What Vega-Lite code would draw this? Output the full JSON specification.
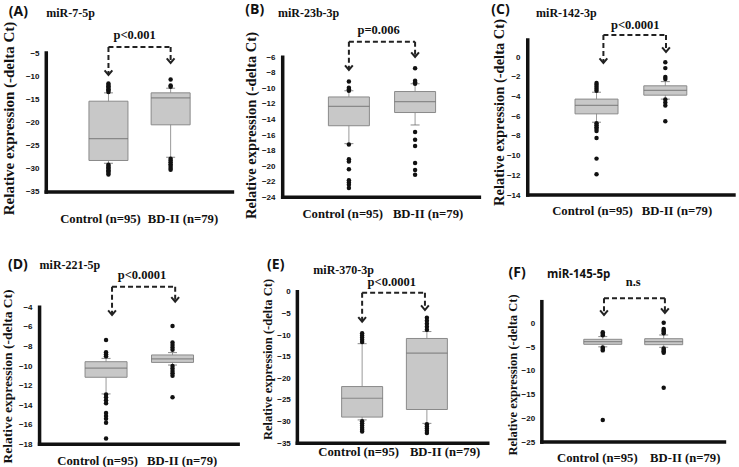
{
"$schema":"https://vega.github.io/schema/vega-lite/v6.json",
"padding":0,
"data":{"values":[{}]},
"datasets":{
"boxes":[
{"p":"A","x":1,"lo":-28.8,"q1":-28.2,"med":-23.5,"q3":-15.4,"hi":-13.6},
{"p":"A","x":2,"lo":-27.5,"q1":-20.5,"med":-14.7,"q3":-13.6,"hi":-12.6},
{"p":"B","x":1,"lo":-17.1,"q1":-14.8,"med":-12.3,"q3":-11.1,"hi":-10.3},
{"p":"B","x":2,"lo":-14.7,"q1":-13.1,"med":-11.7,"q3":-10.4,"hi":-9.4},
{"p":"C","x":1,"lo":-6.6,"q1":-5.75,"med":-4.88,"q3":-4.25,"hi":-3.55},
{"p":"C","x":2,"lo":-4.25,"q1":-3.85,"med":-3.36,"q3":-2.9,"hi":-2.47},
{"p":"D","x":1,"lo":-12.85,"q1":-11.15,"med":-10.22,"q3":-9.56,"hi":-9.22},
{"p":"D","x":2,"lo":-9.9,"q1":-9.63,"med":-9.28,"q3":-8.87,"hi":-8.63},
{"p":"E","x":1,"lo":-29.6,"q1":-28.95,"med":-24.6,"q3":-21.9,"hi":-12.0},
{"p":"E","x":2,"lo":-30.4,"q1":-27.2,"med":-14.2,"q3":-10.8,"hi":-9.2},
{"p":"F","x":1,"lo":-4.95,"q1":-4.42,"med":-3.86,"q3":-3.37,"hi":-2.8},
{"p":"F","x":2,"lo":-5.05,"q1":-4.5,"med":-3.86,"q3":-3.24,"hi":-2.46}
],
"out":[
{"p":"A","x":1,"v":-11.6},{"p":"A","x":1,"v":-11.9},{"p":"A","x":1,"v":-12.2},{"p":"A","x":1,"v":-12.5},{"p":"A","x":1,"v":-12.8},{"p":"A","x":1,"v":-13.1},{"p":"A","x":1,"v":-13.4},
{"p":"A","x":1,"v":-29.1},{"p":"A","x":1,"v":-29.4},{"p":"A","x":1,"v":-29.7},{"p":"A","x":1,"v":-30.0},{"p":"A","x":1,"v":-30.3},{"p":"A","x":1,"v":-30.6},{"p":"A","x":1,"v":-30.9},{"p":"A","x":1,"v":-31.2},
{"p":"A","x":2,"v":-10.7},{"p":"A","x":2,"v":-12.0},{"p":"A","x":2,"v":-12.3},
{"p":"A","x":2,"v":-27.8},{"p":"A","x":2,"v":-28.2},{"p":"A","x":2,"v":-28.6},{"p":"A","x":2,"v":-29.0},{"p":"A","x":2,"v":-29.4},{"p":"A","x":2,"v":-29.8},{"p":"A","x":2,"v":-30.2},
{"p":"B","x":1,"v":-9.1},{"p":"B","x":1,"v":-9.9},{"p":"B","x":1,"v":-10.1},{"p":"B","x":1,"v":-10.3},{"p":"B","x":1,"v":-17.2},{"p":"B","x":1,"v":-19.1},{"p":"B","x":1,"v":-19.4},{"p":"B","x":1,"v":-20.4},{"p":"B","x":1,"v":-21.8},{"p":"B","x":1,"v":-22.1},{"p":"B","x":1,"v":-22.4},{"p":"B","x":1,"v":-22.8},
{"p":"B","x":2,"v":-7.4},{"p":"B","x":2,"v":-9.0},{"p":"B","x":2,"v":-9.2},{"p":"B","x":2,"v":-9.4},{"p":"B","x":2,"v":-15.6},{"p":"B","x":2,"v":-16.6},{"p":"B","x":2,"v":-17.4},{"p":"B","x":2,"v":-19.6},{"p":"B","x":2,"v":-20.5},{"p":"B","x":2,"v":-21.1},
{"p":"C","x":1,"v":-2.6},{"p":"C","x":1,"v":-2.8},{"p":"C","x":1,"v":-3.0},{"p":"C","x":1,"v":-3.2},{"p":"C","x":1,"v":-3.4},{"p":"C","x":1,"v":-6.7},{"p":"C","x":1,"v":-6.9},{"p":"C","x":1,"v":-7.1},{"p":"C","x":1,"v":-7.3},{"p":"C","x":1,"v":-7.5},{"p":"C","x":1,"v":-8.2},{"p":"C","x":1,"v":-10.3},{"p":"C","x":1,"v":-11.9},
{"p":"C","x":2,"v":-0.5},{"p":"C","x":2,"v":-1.1},{"p":"C","x":2,"v":-2.0},{"p":"C","x":2,"v":-2.2},{"p":"C","x":2,"v":-4.3},{"p":"C","x":2,"v":-4.6},{"p":"C","x":2,"v":-4.9},{"p":"C","x":2,"v":-6.5},
{"p":"D","x":1,"v":-7.35},{"p":"D","x":1,"v":-8.6},{"p":"D","x":1,"v":-8.8},{"p":"D","x":1,"v":-9.0},{"p":"D","x":1,"v":-12.9},{"p":"D","x":1,"v":-13.2},{"p":"D","x":1,"v":-13.5},{"p":"D","x":1,"v":-13.8},{"p":"D","x":1,"v":-14.8},{"p":"D","x":1,"v":-15.1},{"p":"D","x":1,"v":-15.4},{"p":"D","x":1,"v":-15.8},{"p":"D","x":1,"v":-17.4},
{"p":"D","x":2,"v":-5.9},{"p":"D","x":2,"v":-7.6},{"p":"D","x":2,"v":-7.85},{"p":"D","x":2,"v":-8.1},{"p":"D","x":2,"v":-8.35},{"p":"D","x":2,"v":-10.0},{"p":"D","x":2,"v":-10.25},{"p":"D","x":2,"v":-10.5},{"p":"D","x":2,"v":-10.75},{"p":"D","x":2,"v":-11.0},{"p":"D","x":2,"v":-13.2},
{"p":"E","x":1,"v":-9.6},{"p":"E","x":1,"v":-10.1},{"p":"E","x":1,"v":-10.6},{"p":"E","x":1,"v":-11.1},{"p":"E","x":1,"v":-11.6},{"p":"E","x":1,"v":-29.9},{"p":"E","x":1,"v":-30.4},{"p":"E","x":1,"v":-30.9},{"p":"E","x":1,"v":-31.4},{"p":"E","x":1,"v":-31.9},{"p":"E","x":1,"v":-32.3},
{"p":"E","x":2,"v":-6.0},{"p":"E","x":2,"v":-6.7},{"p":"E","x":2,"v":-7.4},{"p":"E","x":2,"v":-8.1},{"p":"E","x":2,"v":-8.8},{"p":"E","x":2,"v":-30.6},{"p":"E","x":2,"v":-31.1},{"p":"E","x":2,"v":-31.6},{"p":"E","x":2,"v":-32.1},{"p":"E","x":2,"v":-32.6},
{"p":"F","x":1,"v":-1.9},{"p":"F","x":1,"v":-2.2},{"p":"F","x":1,"v":-2.5},{"p":"F","x":1,"v":-5.1},{"p":"F","x":1,"v":-5.4},{"p":"F","x":1,"v":-5.7},{"p":"F","x":1,"v":-20.35},
{"p":"F","x":2,"v":0.1},{"p":"F","x":2,"v":-1.2},{"p":"F","x":2,"v":-1.5},{"p":"F","x":2,"v":-1.8},{"p":"F","x":2,"v":-2.1},{"p":"F","x":2,"v":-5.3},{"p":"F","x":2,"v":-5.6},{"p":"F","x":2,"v":-5.9},{"p":"F","x":2,"v":-6.2},{"p":"F","x":2,"v":-13.55}
],
"bars":[
{"p":"A","xl":1,"xr":2,"top":-3.7},
{"p":"B","xl":1,"xr":2,"top":-3.99},
{"p":"C","xl":1.1,"xr":2.01,"top":2.27},
{"p":"D","xl":1.09,"xr":2.04,"top":-1.89},
{"p":"E","xl":1,"xr":1.97,"top":-0.23},
{"p":"F","xl":1.02,"xr":2.02,"top":5.26}
],
"arms":[
{"p":"A","x":1,"top":-3.7,"tip":-9.75},{"p":"A","x":2,"top":-3.7,"tip":-7.16},
{"p":"B","x":1,"top":-3.99,"tip":-7.63},{"p":"B","x":2,"top":-3.99,"tip":-5.96},
{"p":"C","x":1.1,"top":2.27,"tip":-0.58},{"p":"C","x":2.01,"top":2.27,"tip":0.54},
{"p":"D","x":1.09,"top":-1.89,"tip":-4.79},{"p":"D","x":2.04,"top":-1.89,"tip":-3.43},
{"p":"E","x":1,"top":-0.23,"tip":-6.93},{"p":"E","x":1.97,"top":-0.23,"tip":-4.23},
{"p":"F","x":1.02,"top":5.26,"tip":1.75},{"p":"F","x":2.02,"top":5.26,"tip":2.17}
]
},
"columns":3,
"spacing":0,
"bounds":"flush",
"concat":[
{"width":246,"height":233,"layer":[
{"data":{"name":"boxes"},"transform":[{"filter":"datum.p=='A'"}],"mark":{"type":"rule","color":"#9a9a9a"},"encoding":{
"x":{"field":"x","type":"quantitative","scale":{"domain":[-0.648,3.148],"nice":false,"zero":false},"axis":{"values":[0.864,2.191],"labelExpr":"datum.value<1.5?'Control (n=95)':'BD-II (n=79)'","offset":-15,"title":null,"labelOverlap":false}},
"y":{"field":"lo","type":"quantitative","scale":{"domain":[-43.85,6.44],"nice":false,"zero":false},"axis":{"values":[-5,-10,-15,-20,-25,-30,-35],"tickCount":30,"offset":-42,"labelOverlap":false,"title":"Relative expression (-delta Ct)","titleX":-35,"titleY":118,"titleFontSize":15}},
"y2":{"field":"hi"}}},
{"data":{"name":"boxes"},"transform":[{"filter":"datum.p=='A'"}],"mark":{"type":"bar","width":39,"color":"#c8c8c8","stroke":"#8a8a8a","strokeWidth":1},"encoding":{"x":{"field":"x","type":"quantitative"},"y":{"field":"q1","type":"quantitative"},"y2":{"field":"q3"}}},
{"data":{"name":"boxes"},"transform":[{"filter":"datum.p=='A'"}],"mark":{"type":"tick","orient":"horizontal","size":39,"thickness":1.2,"color":"#6e6e6e"},"encoding":{"x":{"field":"x","type":"quantitative"},"y":{"field":"med","type":"quantitative"}}},
{"data":{"name":"boxes"},"transform":[{"filter":"datum.p=='A'"},{"fold":["lo","hi"],"as":["k","v"]}],"mark":{"type":"tick","orient":"horizontal","size":9,"thickness":1,"color":"#555"},"encoding":{"x":{"field":"x","type":"quantitative"},"y":{"field":"v","type":"quantitative"}}},
{"data":{"name":"out"},"transform":[{"filter":"datum.p=='A'"}],"mark":{"type":"circle","size":20,"color":"#111","opacity":1},"encoding":{"x":{"field":"x","type":"quantitative"},"y":{"field":"v","type":"quantitative"}}},
{"mark":{"type":"rule","strokeWidth":3.5,"color":"#111","strokeCap":"square"},"encoding":{"x":{"datum":0,"type":"quantitative"},"y":{"datum":-35,"type":"quantitative"},"y2":{"datum":-5}}},
{"mark":{"type":"rule","strokeWidth":3.5,"color":"#111","strokeCap":"square"},"encoding":{"x":{"datum":0,"type":"quantitative"},"x2":{"datum":2.994},"y":{"datum":-35,"type":"quantitative"}}},
{"data":{"name":"bars"},"transform":[{"filter":"datum.p=='A'"}],"mark":{"type":"rule","strokeDash":[5,3],"strokeWidth":2,"color":"#222"},"encoding":{"x":{"field":"xl","type":"quantitative"},"x2":{"field":"xr"},"y":{"field":"top","type":"quantitative"}}},
{"data":{"name":"arms"},"transform":[{"filter":"datum.p=='A'"}],"mark":{"type":"rule","strokeDash":[5,3],"strokeWidth":2,"color":"#222"},"encoding":{"x":{"field":"x","type":"quantitative"},"y":{"field":"top","type":"quantitative"},"y2":{"field":"tip"}}},
{"data":{"name":"arms"},"transform":[{"filter":"datum.p=='A'"}],"mark":{"type":"point","shape":"M-1,-1.2L0,0L1,-1.2","filled":false,"size":60,"stroke":"#222","strokeWidth":2,"opacity":1},"encoding":{"x":{"field":"x","type":"quantitative"},"y":{"field":"tip","type":"quantitative"}}},
{"mark":{"type":"text","text":"p<0.001","font":"Liberation Serif","fontWeight":"bold","fontSize":12.5,"color":"#111"},"encoding":{"x":{"datum":1.42,"type":"quantitative"},"y":{"datum":-1.115,"type":"quantitative"}}},
{"mark":{"type":"text","text":"(A)","font":"Open Sans","fontWeight":"bold","fontSize":14,"align":"left","color":"#111"},"encoding":{"x":{"datum":-0.602,"type":"quantitative"},"y":{"datum":3.85,"type":"quantitative"}}},
{"mark":{"type":"text","text":"miR-7-5p","font":"Liberation Serif","fontWeight":"bold","fontSize":12,"align":"left","color":"#111"},"encoding":{"x":{"datum":0,"type":"quantitative"},"y":{"datum":3.63,"type":"quantitative"}}}
]},
{"width":246,"height":233,"layer":[
{"data":{"name":"boxes"},"transform":[{"filter":"datum.p=='B'"}],"mark":{"type":"rule","color":"#9a9a9a"},"encoding":{
"x":{"field":"x","type":"quantitative","scale":{"domain":[-0.4638,3.1014],"nice":false,"zero":false},"axis":{"values":[0.899,2.188],"labelExpr":"datum.value<1.5?'Control (n=95)':'BD-II (n=79)'","offset":-20,"title":null,"labelOverlap":false}},
"y":{"field":"lo","type":"quantitative","scale":{"domain":[-28.59,1.367],"nice":false,"zero":false},"axis":{"values":[-6,-8,-10,-12,-14,-16,-18,-20,-22,-24],"tickCount":30,"offset":-32,"labelOverlap":false,"title":"Relative expression (-delta Ct)","titleX":-28,"titleY":125,"titleFontSize":14.5}},
"y2":{"field":"hi"}}},
{"data":{"name":"boxes"},"transform":[{"filter":"datum.p=='B'"}],"mark":{"type":"bar","width":41,"color":"#c8c8c8","stroke":"#8a8a8a","strokeWidth":1},"encoding":{"x":{"field":"x","type":"quantitative"},"y":{"field":"q1","type":"quantitative"},"y2":{"field":"q3"}}},
{"data":{"name":"boxes"},"transform":[{"filter":"datum.p=='B'"}],"mark":{"type":"tick","orient":"horizontal","size":41,"thickness":1.2,"color":"#6e6e6e"},"encoding":{"x":{"field":"x","type":"quantitative"},"y":{"field":"med","type":"quantitative"}}},
{"data":{"name":"boxes"},"transform":[{"filter":"datum.p=='B'"},{"fold":["lo","hi"],"as":["k","v"]}],"mark":{"type":"tick","orient":"horizontal","size":9,"thickness":1,"color":"#555"},"encoding":{"x":{"field":"x","type":"quantitative"},"y":{"field":"v","type":"quantitative"}}},
{"data":{"name":"out"},"transform":[{"filter":"datum.p=='B'"}],"mark":{"type":"circle","size":20,"color":"#111","opacity":1},"encoding":{"x":{"field":"x","type":"quantitative"},"y":{"field":"v","type":"quantitative"}}},
{"mark":{"type":"rule","strokeWidth":3.5,"color":"#111","strokeCap":"square"},"encoding":{"x":{"datum":0,"type":"quantitative"},"y":{"datum":-24,"type":"quantitative"},"y2":{"datum":-6}}},
{"mark":{"type":"rule","strokeWidth":3.5,"color":"#111","strokeCap":"square"},"encoding":{"x":{"datum":0,"type":"quantitative"},"x2":{"datum":2.971},"y":{"datum":-24,"type":"quantitative"}}},
{"data":{"name":"bars"},"transform":[{"filter":"datum.p=='B'"}],"mark":{"type":"rule","strokeDash":[5,3],"strokeWidth":2,"color":"#222"},"encoding":{"x":{"field":"xl","type":"quantitative"},"x2":{"field":"xr"},"y":{"field":"top","type":"quantitative"}}},
{"data":{"name":"arms"},"transform":[{"filter":"datum.p=='B'"}],"mark":{"type":"rule","strokeDash":[5,3],"strokeWidth":2,"color":"#222"},"encoding":{"x":{"field":"x","type":"quantitative"},"y":{"field":"top","type":"quantitative"},"y2":{"field":"tip"}}},
{"data":{"name":"arms"},"transform":[{"filter":"datum.p=='B'"}],"mark":{"type":"point","shape":"M-1,-1.2L0,0L1,-1.2","filled":false,"size":60,"stroke":"#222","strokeWidth":2,"opacity":1},"encoding":{"x":{"field":"x","type":"quantitative"},"y":{"field":"tip","type":"quantitative"}}},
{"mark":{"type":"text","text":"p=0.006","font":"Liberation Serif","fontWeight":"bold","fontSize":12.5,"color":"#111"},"encoding":{"x":{"datum":1.449,"type":"quantitative"},"y":{"datum":-2.49,"type":"quantitative"}}},
{"mark":{"type":"text","text":"(B)","font":"Open Sans","fontWeight":"bold","fontSize":14,"align":"left","color":"#111"},"encoding":{"x":{"datum":-0.565,"type":"quantitative"},"y":{"datum":0.08,"type":"quantitative"}}},
{"mark":{"type":"text","text":"miR-23b-3p","font":"Liberation Serif","fontWeight":"bold","fontSize":12,"align":"left","color":"#111"},"encoding":{"x":{"datum":-0.072,"type":"quantitative"},"y":{"datum":-0.35,"type":"quantitative"}}}
]},
{"width":246,"height":233,"layer":[
{"data":{"name":"boxes"},"transform":[{"filter":"datum.p=='C'"}],"mark":{"type":"rule","color":"#9a9a9a"},"encoding":{
"x":{"field":"x","type":"quantitative","scale":{"domain":[-0.4324,2.9986],"nice":false,"zero":false},"axis":{"values":[0.934,2.162],"labelExpr":"datum.value<1.5?'Control (n=95)':'BD-II (n=79)'","offset":-23,"title":null,"labelOverlap":false}},
"y":{"field":"lo","type":"quantitative","scale":{"domain":[-17.863,5.826],"nice":false,"zero":false},"axis":{"values":[0,-2,-4,-6,-8,-10,-12,-14],"tickCount":30,"offset":-31,"labelOverlap":false,"title":"Relative expression (-delta Ct)","titleX":-25,"titleY":112,"titleFontSize":14.5}},
"y2":{"field":"hi"}}},
{"data":{"name":"boxes"},"transform":[{"filter":"datum.p=='C'"}],"mark":{"type":"bar","width":43,"color":"#c8c8c8","stroke":"#8a8a8a","strokeWidth":1},"encoding":{"x":{"field":"x","type":"quantitative"},"y":{"field":"q1","type":"quantitative"},"y2":{"field":"q3"}}},
{"data":{"name":"boxes"},"transform":[{"filter":"datum.p=='C'"}],"mark":{"type":"tick","orient":"horizontal","size":43,"thickness":1.2,"color":"#6e6e6e"},"encoding":{"x":{"field":"x","type":"quantitative"},"y":{"field":"med","type":"quantitative"}}},
{"data":{"name":"boxes"},"transform":[{"filter":"datum.p=='C'"},{"fold":["lo","hi"],"as":["k","v"]}],"mark":{"type":"tick","orient":"horizontal","size":9,"thickness":1,"color":"#555"},"encoding":{"x":{"field":"x","type":"quantitative"},"y":{"field":"v","type":"quantitative"}}},
{"data":{"name":"out"},"transform":[{"filter":"datum.p=='C'"}],"mark":{"type":"circle","size":20,"color":"#111","opacity":1},"encoding":{"x":{"field":"x","type":"quantitative"},"y":{"field":"v","type":"quantitative"}}},
{"mark":{"type":"rule","strokeWidth":3.5,"color":"#111","strokeCap":"square"},"encoding":{"x":{"datum":0,"type":"quantitative"},"y":{"datum":-14,"type":"quantitative"},"y2":{"datum":1.76}}},
{"mark":{"type":"rule","strokeWidth":3.5,"color":"#111","strokeCap":"square"},"encoding":{"x":{"datum":0,"type":"quantitative"},"x2":{"datum":2.998},"y":{"datum":-14,"type":"quantitative"}}},
{"data":{"name":"bars"},"transform":[{"filter":"datum.p=='C'"}],"mark":{"type":"rule","strokeDash":[5,3],"strokeWidth":2,"color":"#222"},"encoding":{"x":{"field":"xl","type":"quantitative"},"x2":{"field":"xr"},"y":{"field":"top","type":"quantitative"}}},
{"data":{"name":"arms"},"transform":[{"filter":"datum.p=='C'"}],"mark":{"type":"rule","strokeDash":[5,3],"strokeWidth":2,"color":"#222"},"encoding":{"x":{"field":"x","type":"quantitative"},"y":{"field":"top","type":"quantitative"},"y2":{"field":"tip"}}},
{"data":{"name":"arms"},"transform":[{"filter":"datum.p=='C'"}],"mark":{"type":"point","shape":"M-1,-1.2L0,0L1,-1.2","filled":false,"size":60,"stroke":"#222","strokeWidth":2,"opacity":1},"encoding":{"x":{"field":"x","type":"quantitative"},"y":{"field":"tip","type":"quantitative"}}},
{"mark":{"type":"text","text":"p<0.0001","font":"Liberation Serif","fontWeight":"bold","fontSize":12.5,"color":"#111"},"encoding":{"x":{"datum":1.562,"type":"quantitative"},"y":{"datum":3.28,"type":"quantitative"}}},
{"mark":{"type":"text","text":"(C)","font":"Open Sans","fontWeight":"bold","fontSize":14,"align":"left","color":"#111"},"encoding":{"x":{"datum":-0.53,"type":"quantitative"},"y":{"datum":4.81,"type":"quantitative"}}},
{"mark":{"type":"text","text":"miR-142-3p","font":"Liberation Serif","fontWeight":"bold","fontSize":12,"align":"left","color":"#111"},"encoding":{"x":{"datum":0.121,"type":"quantitative"},"y":{"datum":4.47,"type":"quantitative"}}}
]},
{"width":246,"height":233,"layer":[
{"data":{"name":"boxes"},"transform":[{"filter":"datum.p=='D'"}],"mark":{"type":"rule","color":"#9a9a9a"},"encoding":{
"x":{"field":"x","type":"quantitative","scale":{"domain":[-0.505,3.045],"nice":false,"zero":false},"axis":{"values":[0.866,2.136],"labelExpr":"datum.value<1.5?'Control (n=95)':'BD-II (n=79)'","offset":-6,"title":null,"labelOverlap":false}},
"y":{"field":"lo","type":"quantitative","scale":{"domain":[-20.217,3.593],"nice":false,"zero":false},"axis":{"values":[-4,-6,-8,-10,-12,-14,-16,-18],"tickCount":30,"offset":-35,"labelOverlap":false,"title":"Relative expression (-delta Ct)","titleX":-29,"titleY":143,"titleFontSize":13.5}},
"y2":{"field":"hi"}}},
{"data":{"name":"boxes"},"transform":[{"filter":"datum.p=='D'"}],"mark":{"type":"bar","width":42,"color":"#c8c8c8","stroke":"#8a8a8a","strokeWidth":1},"encoding":{"x":{"field":"x","type":"quantitative"},"y":{"field":"q1","type":"quantitative"},"y2":{"field":"q3"}}},
{"data":{"name":"boxes"},"transform":[{"filter":"datum.p=='D'"}],"mark":{"type":"tick","orient":"horizontal","size":42,"thickness":1.2,"color":"#6e6e6e"},"encoding":{"x":{"field":"x","type":"quantitative"},"y":{"field":"med","type":"quantitative"}}},
{"data":{"name":"boxes"},"transform":[{"filter":"datum.p=='D'"},{"fold":["lo","hi"],"as":["k","v"]}],"mark":{"type":"tick","orient":"horizontal","size":9,"thickness":1,"color":"#555"},"encoding":{"x":{"field":"x","type":"quantitative"},"y":{"field":"v","type":"quantitative"}}},
{"data":{"name":"out"},"transform":[{"filter":"datum.p=='D'"}],"mark":{"type":"circle","size":20,"color":"#111","opacity":1},"encoding":{"x":{"field":"x","type":"quantitative"},"y":{"field":"v","type":"quantitative"}}},
{"mark":{"type":"rule","strokeWidth":3.5,"color":"#111","strokeCap":"square"},"encoding":{"x":{"datum":0,"type":"quantitative"},"y":{"datum":-18,"type":"quantitative"},"y2":{"datum":-4}}},
{"mark":{"type":"rule","strokeWidth":3.5,"color":"#111","strokeCap":"square"},"encoding":{"x":{"datum":0,"type":"quantitative"},"x2":{"datum":2.987},"y":{"datum":-18,"type":"quantitative"}}},
{"data":{"name":"bars"},"transform":[{"filter":"datum.p=='D'"}],"mark":{"type":"rule","strokeDash":[5,3],"strokeWidth":2,"color":"#222"},"encoding":{"x":{"field":"xl","type":"quantitative"},"x2":{"field":"xr"},"y":{"field":"top","type":"quantitative"}}},
{"data":{"name":"arms"},"transform":[{"filter":"datum.p=='D'"}],"mark":{"type":"rule","strokeDash":[5,3],"strokeWidth":2,"color":"#222"},"encoding":{"x":{"field":"x","type":"quantitative"},"y":{"field":"top","type":"quantitative"},"y2":{"field":"tip"}}},
{"data":{"name":"arms"},"transform":[{"filter":"datum.p=='D'"}],"mark":{"type":"point","shape":"M-1,-1.2L0,0L1,-1.2","filled":false,"size":60,"stroke":"#222","strokeWidth":2,"opacity":1},"encoding":{"x":{"field":"x","type":"quantitative"},"y":{"field":"tip","type":"quantitative"}}},
{"mark":{"type":"text","text":"p<0.0001","font":"Liberation Serif","fontWeight":"bold","fontSize":12.5,"color":"#111"},"encoding":{"x":{"datum":1.54,"type":"quantitative"},"y":{"datum":-0.7,"type":"quantitative"}}},
{"mark":{"type":"text","text":"(D)","font":"Open Sans","fontWeight":"bold","fontSize":14,"align":"left","color":"#111"},"encoding":{"x":{"datum":-0.476,"type":"quantitative"},"y":{"datum":0.323,"type":"quantitative"}}},
{"mark":{"type":"text","text":"miR-221-5p","font":"Liberation Serif","fontWeight":"bold","fontSize":12,"align":"left","color":"#111"},"encoding":{"x":{"datum":0,"type":"quantitative"},"y":{"datum":0.323,"type":"quantitative"}}}
]},
{"width":246,"height":233,"layer":[
{"data":{"name":"boxes"},"transform":[{"filter":"datum.p=='E'"}],"mark":{"type":"rule","color":"#9a9a9a"},"encoding":{
"x":{"field":"x","type":"quantitative","scale":{"domain":[-0.7007,2.9437],"nice":false,"zero":false},"axis":{"values":[0.939,2.273],"labelExpr":"datum.value<1.5?'Control (n=95)':'BD-II (n=79)'","offset":-15,"title":null,"labelOverlap":false}},
"y":{"field":"lo","type":"quantitative","scale":{"domain":[-40.245,13.553],"nice":false,"zero":false},"axis":{"values":[0,-5,-10,-15,-20,-25,-30,-35],"tickCount":30,"offset":-47.3,"labelOverlap":false,"title":"Relative expression (-delta Ct)","titleX":-27.3,"titleY":126,"titleFontSize":12.5}},
"y2":{"field":"hi"}}},
{"data":{"name":"boxes"},"transform":[{"filter":"datum.p=='E'"}],"mark":{"type":"bar","width":41,"color":"#c8c8c8","stroke":"#8a8a8a","strokeWidth":1},"encoding":{"x":{"field":"x","type":"quantitative"},"y":{"field":"q1","type":"quantitative"},"y2":{"field":"q3"}}},
{"data":{"name":"boxes"},"transform":[{"filter":"datum.p=='E'"}],"mark":{"type":"tick","orient":"horizontal","size":41,"thickness":1.2,"color":"#6e6e6e"},"encoding":{"x":{"field":"x","type":"quantitative"},"y":{"field":"med","type":"quantitative"}}},
{"data":{"name":"boxes"},"transform":[{"filter":"datum.p=='E'"},{"fold":["lo","hi"],"as":["k","v"]}],"mark":{"type":"tick","orient":"horizontal","size":9,"thickness":1,"color":"#555"},"encoding":{"x":{"field":"x","type":"quantitative"},"y":{"field":"v","type":"quantitative"}}},
{"data":{"name":"out"},"transform":[{"filter":"datum.p=='E'"}],"mark":{"type":"circle","size":20,"color":"#111","opacity":1},"encoding":{"x":{"field":"x","type":"quantitative"},"y":{"field":"v","type":"quantitative"}}},
{"mark":{"type":"rule","strokeWidth":3.5,"color":"#111","strokeCap":"square"},"encoding":{"x":{"datum":0,"type":"quantitative"},"y":{"datum":-35,"type":"quantitative"},"y2":{"datum":0}}},
{"mark":{"type":"rule","strokeWidth":3.5,"color":"#111","strokeCap":"square"},"encoding":{"x":{"datum":0,"type":"quantitative"},"x2":{"datum":2.94},"y":{"datum":-35,"type":"quantitative"}}},
{"data":{"name":"bars"},"transform":[{"filter":"datum.p=='E'"}],"mark":{"type":"rule","strokeDash":[5,3],"strokeWidth":2,"color":"#222"},"encoding":{"x":{"field":"xl","type":"quantitative"},"x2":{"field":"xr"},"y":{"field":"top","type":"quantitative"}}},
{"data":{"name":"arms"},"transform":[{"filter":"datum.p=='E'"}],"mark":{"type":"rule","strokeDash":[5,3],"strokeWidth":2,"color":"#222"},"encoding":{"x":{"field":"x","type":"quantitative"},"y":{"field":"top","type":"quantitative"},"y2":{"field":"tip"}}},
{"data":{"name":"arms"},"transform":[{"filter":"datum.p=='E'"}],"mark":{"type":"point","shape":"M-1,-1.2L0,0L1,-1.2","filled":false,"size":60,"stroke":"#222","strokeWidth":2,"opacity":1},"encoding":{"x":{"field":"x","type":"quantitative"},"y":{"field":"tip","type":"quantitative"}}},
{"mark":{"type":"text","text":"p<0.0001","font":"Liberation Serif","fontWeight":"bold","fontSize":12.5,"color":"#111"},"encoding":{"x":{"datum":1.458,"type":"quantitative"},"y":{"datum":2.31,"type":"quantitative"}}},
{"mark":{"type":"text","text":"(E)","font":"Open Sans","fontWeight":"bold","fontSize":14,"align":"left","color":"#111"},"encoding":{"x":{"datum":-0.468,"type":"quantitative"},"y":{"datum":6.16,"type":"quantitative"}}},
{"mark":{"type":"text","text":"miR-370-3p","font":"Liberation Serif","fontWeight":"bold","fontSize":12,"align":"left","color":"#111"},"encoding":{"x":{"datum":0.247,"type":"quantitative"},"y":{"datum":5.01,"type":"quantitative"}}}
]},
{"width":246,"height":233,"layer":[
{"data":{"name":"boxes"},"transform":[{"filter":"datum.p=='F'"}],"mark":{"type":"rule","color":"#9a9a9a"},"encoding":{
"x":{"field":"x","type":"quantitative","scale":{"domain":[-0.7197,3.154],"nice":false,"zero":false},"axis":{"values":[0.902,2.346],"labelExpr":"datum.value<1.5?'Control (n=95)':'BD-II (n=79)'","offset":-9,"title":null,"labelOverlap":false}},
"y":{"field":"lo","type":"quantitative","scale":{"domain":[-30.04,19.01],"nice":false,"zero":false},"axis":{"values":[0,-5,-10,-15,-20,-25],"tickCount":30,"offset":-45.7,"labelOverlap":false,"title":"Relative expression (-delta Ct)","titleX":-26,"titleY":141.5,"titleFontSize":12.5}},
"y2":{"field":"hi"}}},
{"data":{"name":"boxes"},"transform":[{"filter":"datum.p=='F'"}],"mark":{"type":"bar","width":38,"color":"#c8c8c8","stroke":"#8a8a8a","strokeWidth":1},"encoding":{"x":{"field":"x","type":"quantitative"},"y":{"field":"q1","type":"quantitative"},"y2":{"field":"q3"}}},
{"data":{"name":"boxes"},"transform":[{"filter":"datum.p=='F'"}],"mark":{"type":"tick","orient":"horizontal","size":38,"thickness":1.2,"color":"#6e6e6e"},"encoding":{"x":{"field":"x","type":"quantitative"},"y":{"field":"med","type":"quantitative"}}},
{"data":{"name":"boxes"},"transform":[{"filter":"datum.p=='F'"},{"fold":["lo","hi"],"as":["k","v"]}],"mark":{"type":"tick","orient":"horizontal","size":9,"thickness":1,"color":"#555"},"encoding":{"x":{"field":"x","type":"quantitative"},"y":{"field":"v","type":"quantitative"}}},
{"data":{"name":"out"},"transform":[{"filter":"datum.p=='F'"}],"mark":{"type":"circle","size":20,"color":"#111","opacity":1},"encoding":{"x":{"field":"x","type":"quantitative"},"y":{"field":"v","type":"quantitative"}}},
{"mark":{"type":"rule","strokeWidth":3.5,"color":"#111","strokeCap":"square"},"encoding":{"x":{"datum":0,"type":"quantitative"},"y":{"datum":-25,"type":"quantitative"},"y2":{"datum":4.55}}},
{"mark":{"type":"rule","strokeWidth":3.5,"color":"#111","strokeCap":"square"},"encoding":{"x":{"datum":0,"type":"quantitative"},"x2":{"datum":2.997},"y":{"datum":-25,"type":"quantitative"}}},
{"data":{"name":"bars"},"transform":[{"filter":"datum.p=='F'"}],"mark":{"type":"rule","strokeDash":[5,3],"strokeWidth":2,"color":"#222"},"encoding":{"x":{"field":"xl","type":"quantitative"},"x2":{"field":"xr"},"y":{"field":"top","type":"quantitative"}}},
{"data":{"name":"arms"},"transform":[{"filter":"datum.p=='F'"}],"mark":{"type":"rule","strokeDash":[5,3],"strokeWidth":2,"color":"#222"},"encoding":{"x":{"field":"x","type":"quantitative"},"y":{"field":"top","type":"quantitative"},"y2":{"field":"tip"}}},
{"data":{"name":"arms"},"transform":[{"filter":"datum.p=='F'"}],"mark":{"type":"point","shape":"M-1,-1.2L0,0L1,-1.2","filled":false,"size":60,"stroke":"#222","strokeWidth":2,"opacity":1},"encoding":{"x":{"field":"x","type":"quantitative"},"y":{"field":"tip","type":"quantitative"}}},
{"mark":{"type":"text","text":"n.s","font":"Liberation Serif","fontWeight":"bold","fontSize":12.5,"color":"#111"},"encoding":{"x":{"datum":1.5,"type":"quantitative"},"y":{"datum":8.76,"type":"quantitative"}}},
{"mark":{"type":"text","text":"(F)","font":"Open Sans","fontWeight":"bold","fontSize":14,"align":"left","color":"#111"},"encoding":{"x":{"datum":-0.546,"type":"quantitative"},"y":{"datum":10.59,"type":"quantitative"}}},
{"mark":{"type":"text","text":"miR-145-5p","font":"Open Sans","fontWeight":"bold","fontSize":11.5,"align":"left","color":"#111"},"encoding":{"x":{"datum":0.083,"type":"quantitative"},"y":{"datum":10.17,"type":"quantitative"}}}
]}
],
"config":{
"view":{"stroke":null},
"axis":{"domain":false,"ticks":false,"grid":false,"labelOverlap":false,"labelColor":"#111","titleColor":"#111","labelFont":"Liberation Sans","labelFontWeight":"bold","labelFontSize":8,"labelPadding":4,"titleFont":"Liberation Serif","titleFontWeight":"bold","titleBaseline":"middle","titleAlign":"center"},
"axisX":{"labelFont":"Liberation Serif","labelFontSize":12.7,"labelPadding":0,"labelBaseline":"middle","labelOverlap":false,"labelFlush":false,"labelAngle":0}
}
}
